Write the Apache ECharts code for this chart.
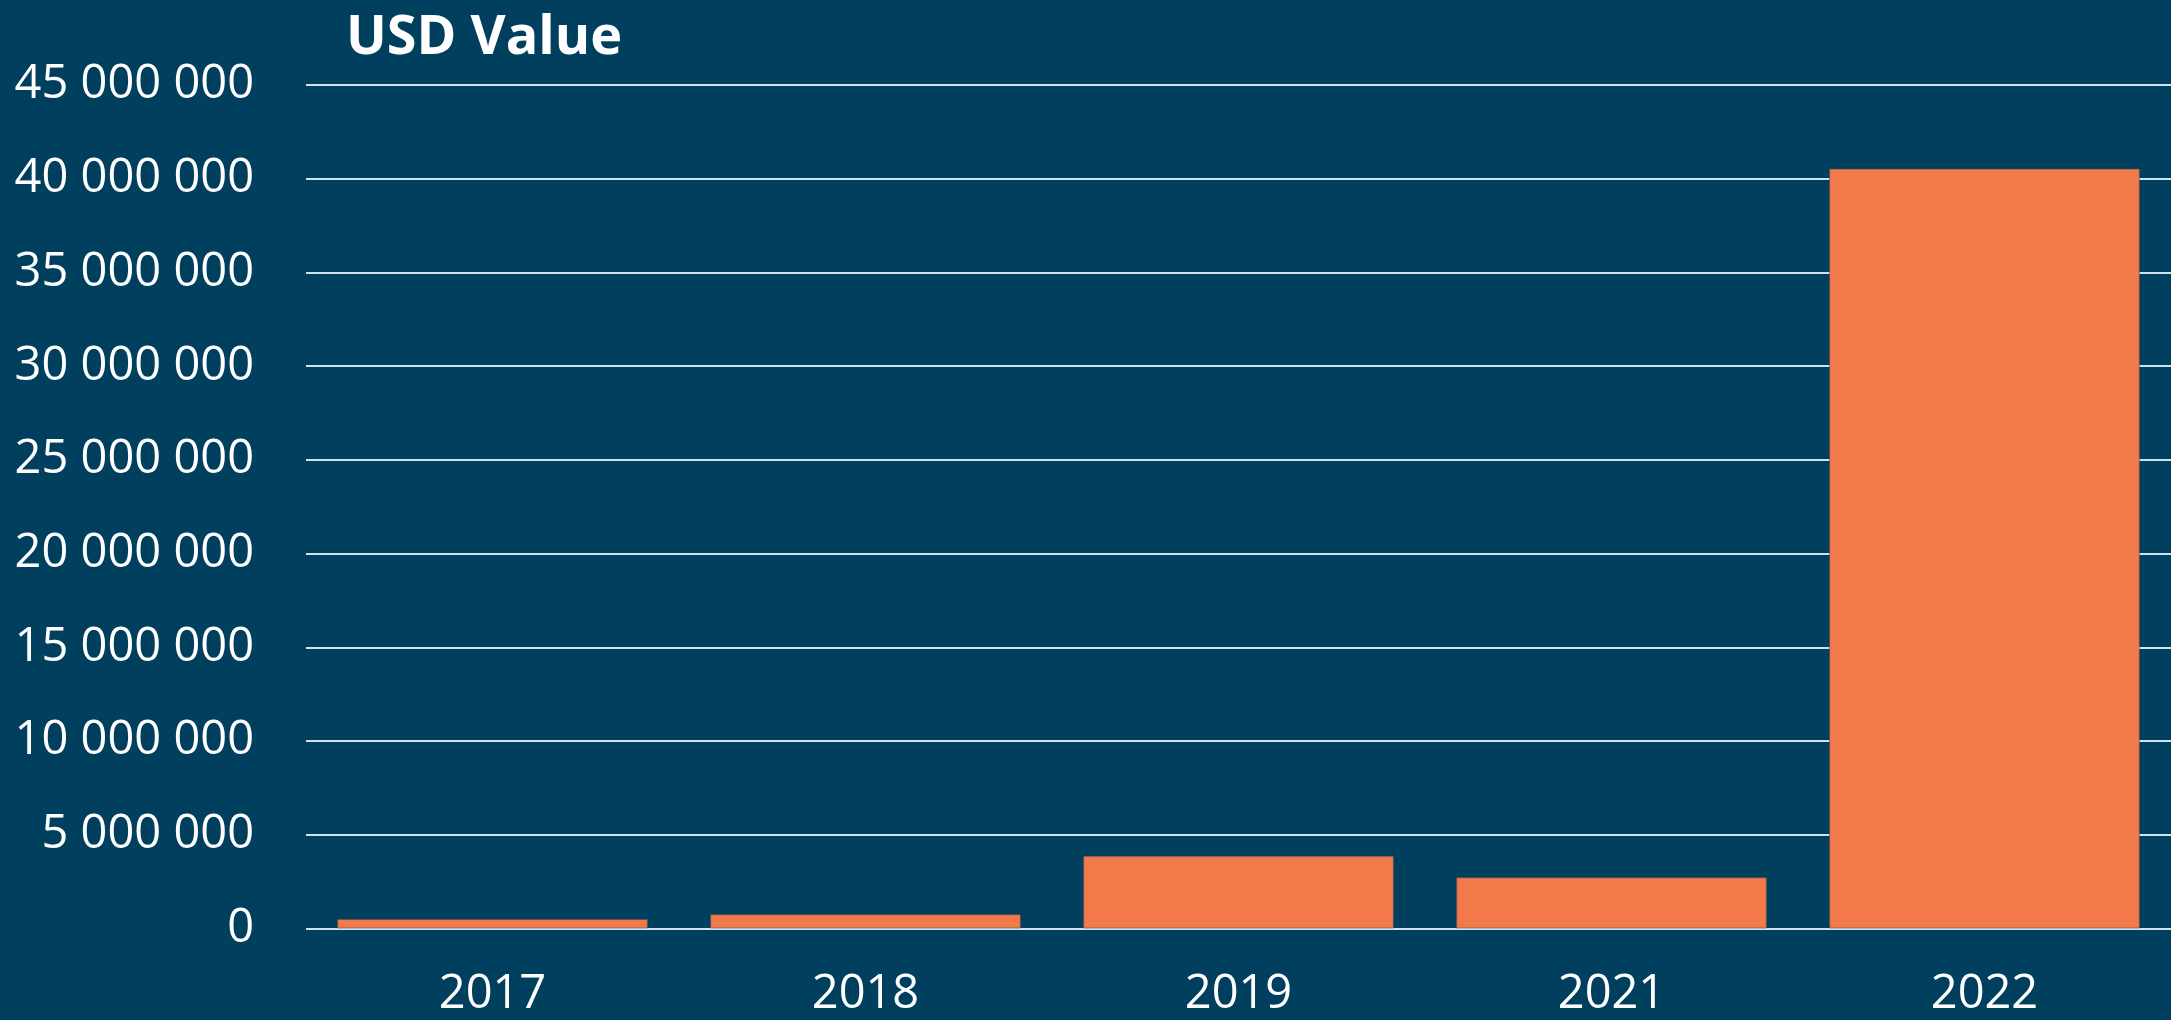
<!DOCTYPE html>
<html>
<head>
<meta charset="utf-8">
<script src="https://cdn.jsdelivr.net/npm/echarts@6/dist/echarts.min.js"></script>
<style>
  html, body { margin: 0; padding: 0; background: #013f5e; }
  #chart { width: 2171px; height: 1020px; }
</style>
</head>
<body>
<div id="chart"></div>
<script>
// data
var years = ['2017', '2018', '2019', '2021', '2022'];
var usdValues = [510000, 760000, 3880000, 2730000, 40540000];
var yMax = 45000000;
var yStep = 5000000;

// 45000000 -> "45 000 000"
function spaced(v) {
    return String(v).replace(/\B(?=(\d{3})+(?!\d))/g, ' ');
}

var chart = echarts.init(document.getElementById('chart'));

var option = {
    backgroundColor: '#013f5e',
    title: {
        text: 'USD Value',
        left: 341,
        top: 7,
        textStyle: {
            color: '#ffffff',
            fontFamily: 'Open Sans',
            fontWeight: 'bold',
            fontSize: 54
        }
    },
    grid: {
        left: 306,
        right: 0,
        top: 85,
        bottom: 91.5
    },
    xAxis: {
        type: 'category',
        data: years,
        axisLine: { show: false },
        axisTick: { show: false },
        axisLabel: {
            color: '#ffffff',
            fontFamily: 'Open Sans',
            fontSize: 47,
            margin: 43
        }
    },
    yAxis: {
        type: 'value',
        min: 0,
        max: yMax,
        interval: yStep,
        axisLine: { show: false },
        axisTick: { show: false },
        axisLabel: {
            color: '#ffffff',
            fontFamily: 'Open Sans',
            fontSize: 47,
            margin: 52,
            formatter: spaced
        },
        splitLine: {
            lineStyle: { color: '#cfe3ef', width: 2 }
        }
    },
    series: [{
        name: 'USD Value',
        type: 'bar',
        data: usdValues,
        barCategoryGap: '16.7%',
        itemStyle: {
            color: '#f2794a',
            borderColor: 'rgba(90,80,80,0.6)',
            borderWidth: 1
        }
    }]
};

chart.setOption(option);
</script>
</body>
</html>
